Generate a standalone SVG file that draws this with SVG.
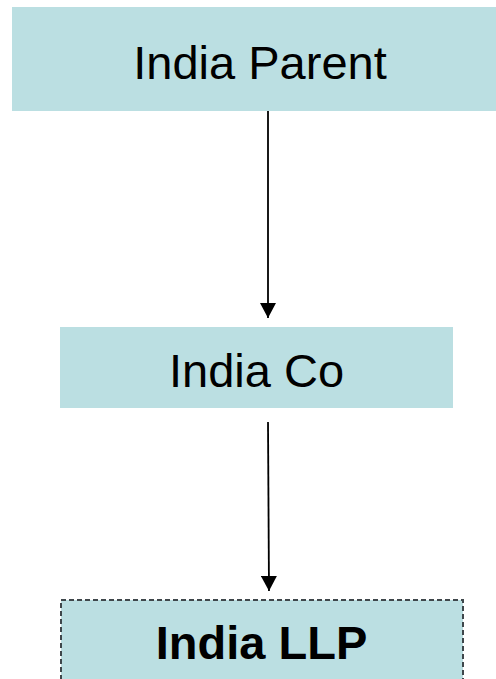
<svg xmlns="http://www.w3.org/2000/svg" width="496" height="679" viewBox="0 0 496 679">
<style>
.box{fill:#bbdfe2}
.lbl{font-family:"Liberation Sans",Arial,sans-serif;font-size:47px;fill:#000;text-anchor:middle}
.conn{stroke:#000;stroke-width:1.8;fill:none}
</style>
<defs>
<marker id="ah" markerUnits="userSpaceOnUse" markerWidth="16" markerHeight="16" refX="15" refY="8" orient="auto">
<path d="M0,0 L15,8 L0,16 Z" fill="#000"/>
</marker>
</defs>
<rect width="496" height="679" fill="#fff"/>
<g id="india-parent">
<rect class="box" x="12" y="7" width="484" height="104"/>
<text class="lbl" x="260" y="79">India Parent</text>
</g>
<g id="india-co">
<rect class="box" x="60" y="327" width="393" height="81"/>
<text class="lbl" x="256.5" y="387">India Co</text>
</g>
<g id="india-llp">
<rect class="box" x="61" y="600" width="402" height="90" stroke="#3f474b" stroke-width="2" stroke-dasharray="5,3"/>
<text class="lbl" x="261.5" y="659" font-weight="bold">India LLP</text>
</g>
<g id="connectors">
<line class="conn" x1="268" y1="111" x2="268" y2="318" marker-end="url(#ah)"/>
<line class="conn" x1="268" y1="422" x2="269" y2="591" marker-end="url(#ah)"/>
</g>
</svg>
